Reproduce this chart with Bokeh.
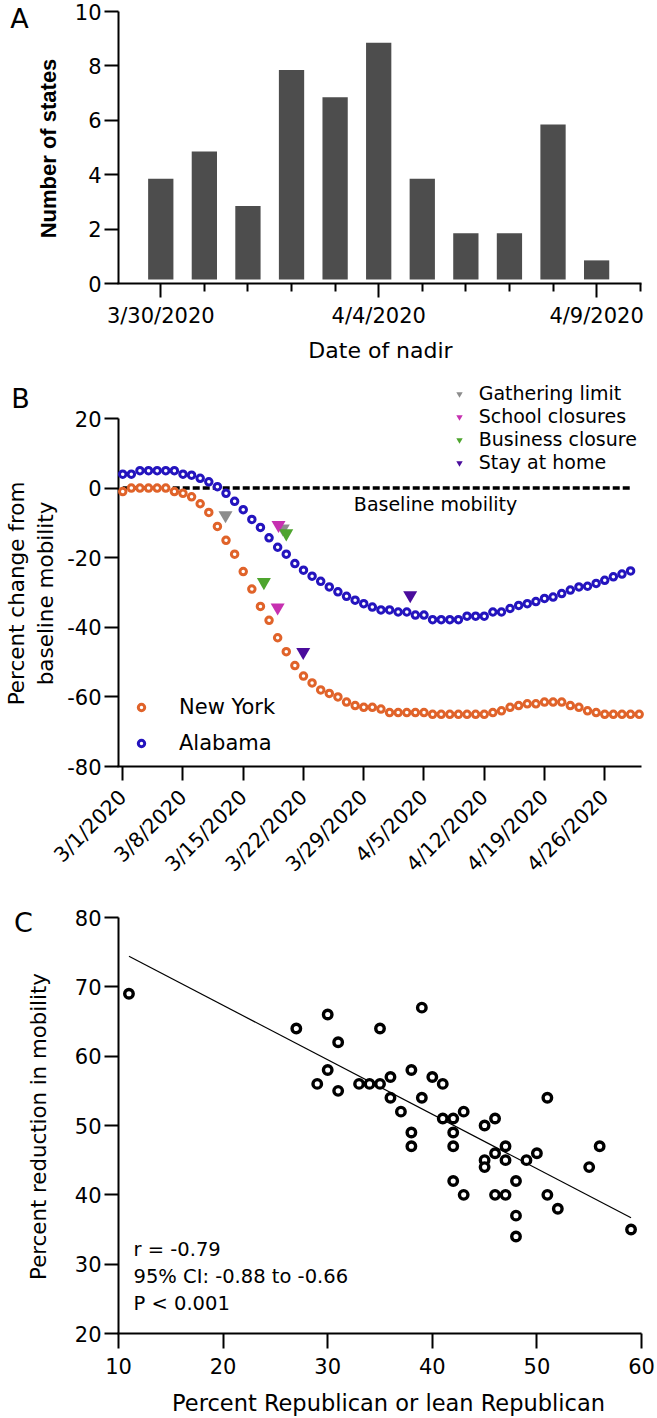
from math import pi
import pandas as pd
from bokeh.plotting import figure
from bokeh.layouts import column
from bokeh.models import FixedTicker, Label, Legend, LegendItem, Range1d
from bokeh.embed import file_html
from bokeh.resources import INLINE

# ---------------- Panel A data ----------------
nadir_dates = ["3/30/2020", "3/31/2020", "4/1/2020", "4/2/2020", "4/3/2020", "4/4/2020",
               "4/5/2020", "4/6/2020", "4/7/2020", "4/8/2020", "4/9/2020"]
nadir_counts = [4, 5, 3, 8, 7, 9, 4, 2, 2, 6, 1]
nadir_labelled = ["3/30/2020", "4/4/2020", "4/9/2020"]

# ---------------- Panel B data ----------------
mobility_dates = [f"{d.month}/{d.day}/{d.year}" for d in pd.date_range("2020-03-01", "2020-04-30")]
b_tick_labels = ["3/1/2020", "3/8/2020", "3/15/2020", "3/22/2020", "3/29/2020",
                 "4/5/2020", "4/12/2020", "4/19/2020", "4/26/2020"]
new_york = [-1, 0, 0, 0, 0, 0, -1, -1.5, -2.5, -4.5,
            -7, -11, -15, -19, -24, -29, -34, -38, -43, -47,
            -51, -54, -56, -58, -59, -60, -61.5, -62.5, -63, -63,
            -63.5, -64.5, -64.5, -64.5, -64.5, -64.5, -65, -65, -65, -65,
            -65, -65, -65, -64.5, -64, -63, -62.5, -62, -62, -61.5,
            -61.5, -61.5, -62.5, -63, -64, -64.5, -65, -65, -65, -65, -65]
alabama = [4, 4, 5, 5, 5, 5, 5, 4, 3.7, 2.8,
           1.8, 0.4, -1.5, -3.8, -6.2, -9, -11.3, -14.3, -17, -19,
           -21.7, -23.6, -25.3, -26.8, -28.4, -29.8, -31.1, -32.2, -33.2, -34.2,
           -35, -35, -35.6, -35.6, -36.5, -36.5, -37.8, -37.8, -37.8, -37.8,
           -36.8, -36.8, -36.8, -35.6, -35.6, -34.6, -33.7, -33.2, -32.6, -31.7,
           -31.3, -30.3, -29.3, -28.4, -28.2, -27.4, -26.5, -25.5, -24.7, -23.8]
baseline_value = 0
# interventions: (day index since 3/1, value) for New York, Alabama
gathering_day, gathering_val = [11.94, 18.6], [-7.8, -11.6]
school_day, school_val = [18.0, 18.1], [-34.3, -10.6]
business_day, business_val = [16.4, 19.0], [-27.0, -13.0]
stayhome_day, stayhome_val = [20.97, 33.4], [-47.1, -30.8]

# ---------------- Panel C data ----------------
pct_republican = [11, 27, 29, 30, 30, 31, 31, 33, 34, 35, 35, 36, 36, 37, 38, 38,
                  38, 39, 39, 40, 41, 41, 42, 42, 42, 42, 43, 43, 45, 45, 45, 46,
                  46, 46, 47, 47, 47, 48, 48, 48, 49, 50, 51, 51, 52, 55, 56, 59]
pct_reduction = [69, 64, 56, 66, 58, 62, 55, 56, 56, 56, 64, 57, 54, 52, 58, 49,
                 47, 67, 54, 57, 56, 51, 51, 49, 47, 42, 52, 40, 50, 45, 44, 51,
                 46, 40, 47, 45, 40, 42, 37, 34, 45, 46, 54, 40, 38, 44, 47, 35]
fit_x = [11, 59]
fit_y = [74.4, 36.7]
stats_text = "r = -0.79\n95% CI: -0.88 to -0.66\nP < 0.001"

# ---------------- styles / geometry ----------------
FONT = "DejaVu Sans"
ORANGE = "#E0632A"
BLUE = "#2414BE"
GREY = "#8C8C8C"
MAGENTA = "#C630B0"
GREEN = "#4EA52E"
PURPLE = "#4A0C9C"
BAR_GAP = 0.15
W = 657
AXIS_PX = 118        # page x of the y axes
RIGHT_PX = 641       # page x of the x axes' right end


class Geo:
    """maps page pixels to data for one panel (the frame fills the whole figure)"""
    def __init__(self, fig_top, fig_h, ax_x, end_x, y_lo, y_lo_px, y_hi, y_hi_px):
        self.sx = (RIGHT_PX - AXIS_PX) / (end_x - ax_x)
        self.ax_x, self.end_x = ax_x, end_x
        self.x_start = ax_x - AXIS_PX / self.sx
        self.x_stop = ax_x + (W - AXIS_PX) / self.sx
        self.sy = (y_lo_px - y_hi_px) / (y_hi - y_lo)
        self.y_lo, self.y_lo_px = y_lo, y_lo_px
        self.y_top = self.y(fig_top)
        self.y_bottom = self.y(fig_top + fig_h)
        self.fig_h = fig_h

    def x(self, px):
        return self.x_start + px / self.sx

    def y(self, py):
        return self.y_lo + (self.y_lo_px - py) / self.sy


def base_fig(g):
    p = figure(width=W, height=g.fig_h, x_range=Range1d(g.x_start, g.x_stop),
               y_range=Range1d(g.y_bottom, g.y_top), output_backend="svg",
               toolbar_location=None, min_border_left=0, min_border_right=0,
               min_border_top=0, min_border_bottom=0)
    p.outline_line_color = None
    p.grid.visible = False
    p.background_fill_color = "white"
    p.border_fill_color = "white"
    p.xaxis.fixed_location = g.y_lo
    p.yaxis.fixed_location = g.ax_x
    return p


def style_axis(ax, size, tick_out=14, standoff=3):
    ax.axis_line_color = None
    ax.major_tick_line_width = 2
    ax.major_tick_line_color = "black"
    ax.major_tick_out = tick_out
    ax.major_tick_in = 0
    ax.minor_tick_line_color = None
    ax.major_label_text_font = FONT
    ax.major_label_text_font_size = size
    ax.major_label_text_color = "black"
    ax.major_label_standoff = standoff


def axis_lines(p, g, y_axis_top):
    # x-axis line from the y axis to the right end, y-axis line from bottom to top tick
    p.segment(x0=[g.ax_x - 1.0 / g.sx], y0=[g.y_lo], x1=[g.end_x], y1=[g.y_lo],
              line_color="black", line_width=2)
    p.segment(x0=[g.ax_x], y0=[g.y_lo], x1=[g.ax_x], y1=[y_axis_top],
              line_color="black", line_width=2)


def text_at(p, g, text, px, py, size, angle=0.0, font=FONT, style="normal",
            align="center", baseline="middle", line_height=1.2):
    p.add_layout(Label(x=g.x(px), y=g.y(py), text=text, text_align=align,
                       text_baseline=baseline, text_font=font, text_font_size=size,
                       text_font_style=style, text_color="black", angle=angle,
                       text_line_height=line_height))


# ================= Panel A =================
HA = 365
gA = Geo(0, HA, -0.97, 11.03, 0, 283, 10, 11)
pA = base_fig(gA)
xa = list(range(len(nadir_counts)))
pA.vbar(x=xa, top=[c - BAR_GAP for c in nadir_counts], bottom=BAR_GAP, width=0.58,
        fill_color="#4D4D4D", line_color=None)
axis_lines(pA, gA, 10)
labelled_idx = [nadir_dates.index(s) for s in nadir_labelled]
pA.xaxis.ticker = FixedTicker(ticks=labelled_idx,
                              minor_ticks=[i for i in range(len(nadir_dates) + 1) if i not in labelled_idx])
pA.xaxis.major_label_overrides = {i: nadir_dates[i] for i in labelled_idx}
pA.yaxis.ticker = FixedTicker(ticks=[0, 2, 4, 6, 8, 10])
for ax in pA.xaxis:
    style_axis(ax, "21px", 14, 6)
    ax.minor_tick_line_color = "black"
    ax.minor_tick_line_width = 2
    ax.minor_tick_out = 8
    ax.minor_tick_in = 0
for ax in pA.yaxis:
    style_axis(ax, "21px", 14, 3)
text_at(pA, gA, "Date of nadir", 380, 350, "22px")
text_at(pA, gA, "Number of states", 47.5, 148, "22px", angle=pi / 2,
        font="Liberation Sans", style="bold")
text_at(pA, gA, "A", 19, 18, "27px")

# ================= Panel B =================
HB = 515
gB = Geo(HA, HB, -0.49, 60.27, -80, 766, 20, 418)
pB = base_fig(gB)
days = list(range(len(mobility_dates)))
axis_lines(pB, gB, 20)
pB.line(x=[days[0], days[len(alabama) - 1]], y=[baseline_value, baseline_value],
        line_color="black", line_width=3.5, line_dash="7 3")
r_ny = pB.scatter(x=days[:len(new_york)], y=new_york, marker="circle", size=6.5,
                  line_width=3, line_color=ORANGE, fill_color="white")
r_al = pB.scatter(x=days[:len(alabama)], y=alabama, marker="circle", size=6.5,
                  line_width=3, line_color=BLUE, fill_color="white")
tri = dict(marker="inverted_triangle", size=14, line_color=None)
r_g = pB.scatter(x=gathering_day, y=gathering_val, fill_color=GREY, **tri)
r_s = pB.scatter(x=school_day, y=school_val, fill_color=MAGENTA, **tri)
r_b = pB.scatter(x=business_day, y=business_val, fill_color=GREEN, **tri)
r_h = pB.scatter(x=stayhome_day, y=stayhome_val, fill_color=PURPLE, **tri)

week_idx = [mobility_dates.index(s) for s in b_tick_labels]
pB.xaxis.ticker = FixedTicker(ticks=week_idx)
pB.xaxis.major_label_overrides = {i: mobility_dates[i] for i in week_idx}
y_ticks_b = [-80, -60, -40, -20, 0, 20]
pB.yaxis.ticker = FixedTicker(ticks=y_ticks_b)
pB.yaxis.major_label_overrides = {t: str(t) for t in y_ticks_b}
for ax in pB.xaxis:
    style_axis(ax, "20.5px", 14, 13)
    ax.major_label_orientation = pi / 4
for ax in pB.yaxis:
    style_axis(ax, "21px", 14, 3)
text_at(pB, gB, "Percent change from", 16, 593, "21.5px", angle=pi / 2)
text_at(pB, gB, "baseline mobility", 45, 593, "21.5px", angle=pi / 2)

B_FRAME_BOTTOM = HA + HB
leg1 = Legend(items=[LegendItem(label="Gathering limit", renderers=[r_g]),
                     LegendItem(label="School closures", renderers=[r_s]),
                     LegendItem(label="Business closure", renderers=[r_b]),
                     LegendItem(label="Stay at home", renderers=[r_h])],
              location=(450.7, B_FRAME_BOTTOM - 473.8), orientation="vertical")
leg2 = Legend(items=[LegendItem(label="New York", renderers=[r_ny]),
                     LegendItem(label="Alabama", renderers=[r_al])],
              location=(133, B_FRAME_BOTTOM - 760.7), orientation="vertical")
for lg, fs, gh, stand in ((leg1, "19px", 23, 12), (leg2, "21px", 36, 30)):
    lg.label_text_font = FONT
    lg.label_text_font_size = fs
    lg.label_text_color = "black"
    lg.glyph_width = 16
    lg.glyph_height = gh
    lg.label_height = gh
    lg.label_standoff = stand
    lg.spacing = 0
    lg.padding = 0
    lg.margin = 0
    lg.border_line_color = None
    lg.background_fill_alpha = 0
    pB.add_layout(lg)

text_at(pB, gB, "Baseline mobility", 435, 503, "19px")
text_at(pB, gB, "B", 20, 398, "27px")

# ================= Panel C =================
HC = 1418 - HA - HB
gC = Geo(HA + HB, HC, 10, 60, 20, 1333, 80, 917)
pC = base_fig(gC)
axis_lines(pC, gC, 80)
pC.line(x=fit_x, y=fit_y, line_color="black", line_width=1.2)
pC.scatter(x=pct_republican, y=pct_reduction, marker="circle", size=8.5, line_width=3.4,
           line_color="black", fill_color="white")
pC.xaxis.ticker = FixedTicker(ticks=[10, 20, 30, 40, 50, 60])
pC.yaxis.ticker = FixedTicker(ticks=[20, 30, 40, 50, 60, 70, 80])
for ax in pC.xaxis:
    style_axis(ax, "21px", 15, 9)
for ax in pC.yaxis:
    style_axis(ax, "21px", 14, 3)
text_at(pC, gC, "Percent Republican or lean Republican", 388, 1402, "22.5px")
text_at(pC, gC, "Percent reduction in mobility", 38, 1126, "21.3px", angle=pi / 2)
text_at(pC, gC, stats_text, 133, 1237, "19.5px", align="left", baseline="top", line_height=1.18)
text_at(pC, gC, "C", 23, 922, "27px")

layout = column(pA, pB, pC, spacing=0)
open("out.html", "w").write(file_html(layout, INLINE))
